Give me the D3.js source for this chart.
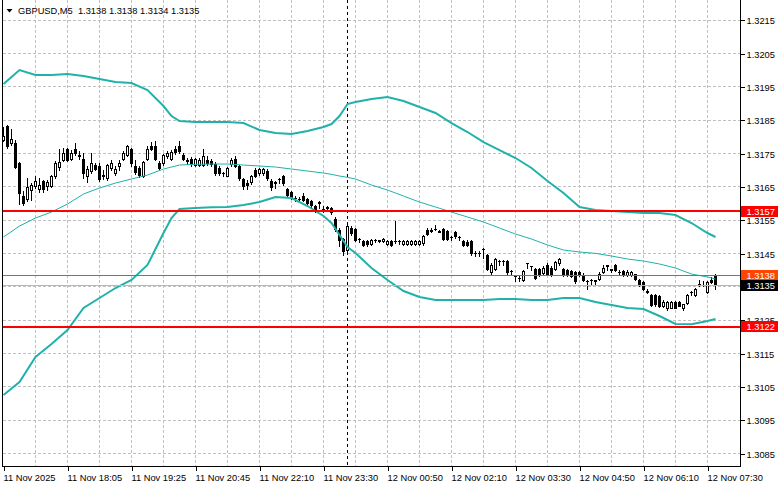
<!DOCTYPE html>
<html><head><meta charset="utf-8">
<script src="https://cdn.jsdelivr.net/npm/d3@7"></script>
<style>
html,body{margin:0;padding:0;background:#fff;}
svg{display:block;}
text{font-family:"Liberation Sans",Arial,sans-serif;font-size:9.3px;fill:#000;}
</style>
</head><body>
<svg id="c" width="781" height="489"></svg>
<script>
const symbolName = "GBPUSD,M5";
const headerValues = ["1.3138", "1.3138", "1.3134", "1.3135"];
const timeLabels = ["11 Nov 2025","11 Nov 18:05","11 Nov 19:25","11 Nov 20:45","11 Nov 22:10","11 Nov 23:30","12 Nov 00:50","12 Nov 02:10","12 Nov 03:30","12 Nov 04:50","12 Nov 06:10","12 Nov 07:30"];
const timeLabelBars = [0,16,32,48,64,80,96,112,128,144,160,176];
const gridBars = [8,16,24,32,40,48,56,64,72,80,88,96,104,112,120,128,136,144,152,160,168,176];
const priceTicks = [1.3215,1.3205,1.3195,1.3185,1.3175,1.3165,1.3155,1.3145,1.3135,1.3125,1.3115,1.3105,1.3095,1.3085];
const separatorBar = 86;

const opens = [1.31789,1.31831,1.31779,1.31781,1.31719,1.31621,1.31611,1.31640,1.31650,1.31643,
1.31665,1.31650,1.31652,1.31680,1.31707,1.31730,1.31762,1.31732,1.31762,1.31745,
1.31732,1.31680,1.31695,1.31713,1.31712,1.31683,1.31675,1.31705,1.31690,1.31710,
1.31732,1.31745,1.31762,1.31712,1.31705,1.31680,1.31732,1.31772,1.31772,1.31720,
1.31720,1.31740,1.31732,1.31762,1.31770,1.31745,1.31728,1.31732,1.31715,1.31715,
1.31715,1.31728,1.31725,1.31718,1.31705,1.31690,1.31682,1.31718,1.31732,1.31712,
1.31672,1.31660,1.31662,1.31698,1.31690,1.31690,1.31695,1.31665,1.31662,1.31672,
1.31682,1.31642,1.31632,1.31615,1.31612,1.31622,1.31612,1.31605,1.31590,1.31602,
1.31582,1.31587,1.31585,1.31552,1.31520,1.31492,1.31460,1.31525,1.31522,1.31492,
1.31485,1.31485,1.31478,1.31490,1.31488,1.31485,1.31478,1.31485,1.31486,1.31486,
1.31478,1.31478,1.31478,1.31478,1.31478,1.31480,1.31518,1.31518,1.31522,1.31515,
1.31522,1.31515,1.31498,1.31512,1.31498,1.31485,1.31484,1.31485,1.31451,1.31451,
1.31462,1.31445,1.31392,1.31402,1.31426,1.31426,1.31425,1.31396,1.31383,1.31376,
1.31370,1.31420,1.31411,1.31402,1.31402,1.31390,1.31415,1.31405,1.31402,1.31420,
1.31402,1.31398,1.31395,1.31392,1.31392,1.31385,1.31366,1.31369,1.31368,1.31372,
1.31392,1.31413,1.31401,1.31415,1.31393,1.31396,1.31384,1.31384,1.31386,1.31369,
1.31362,1.31335,1.31324,1.31324,1.31322,1.31292,1.31284,1.31286,1.31304,1.31302,
1.31284,1.31299,1.31333,1.31324,1.31357,1.31355,1.31332,1.31369,1.31384];
const highs = [1.31829,1.31835,1.31821,1.31790,1.31722,1.31635,1.31674,1.31660,1.31680,1.31675,
1.31670,1.31670,1.31685,1.31725,1.31762,1.31765,1.31765,1.31758,1.31780,1.31755,
1.31750,1.31710,1.31750,1.31720,1.31720,1.31700,1.31718,1.31730,1.31710,1.31730,
1.31755,1.31775,1.31765,1.31730,1.31710,1.31727,1.31770,1.31782,1.31785,1.31725,
1.31748,1.31755,1.31758,1.31772,1.31785,1.31750,1.31735,1.31738,1.31735,1.31735,
1.31762,1.31740,1.31732,1.31722,1.31710,1.31692,1.31708,1.31735,1.31740,1.31715,
1.31675,1.31670,1.31685,1.31705,1.31705,1.31705,1.31702,1.31672,1.31665,1.31675,
1.31685,1.31645,1.31635,1.31620,1.31618,1.31630,1.31615,1.31610,1.31595,1.31605,
1.31590,1.31590,1.31588,1.31558,1.31525,1.31495,1.31535,1.31530,1.31525,1.31495,
1.31490,1.31488,1.31492,1.31492,1.31490,1.31494,1.31488,1.31488,1.31545,1.31490,
1.31488,1.31488,1.31488,1.31488,1.31488,1.31505,1.31525,1.31525,1.31535,1.31518,
1.31525,1.31518,1.31502,1.31515,1.31502,1.31488,1.31488,1.31488,1.31455,1.31455,
1.31465,1.31448,1.31420,1.31435,1.31428,1.31428,1.31428,1.31398,1.31385,1.31380,
1.31398,1.31420,1.31412,1.31405,1.31405,1.31410,1.31420,1.31410,1.31425,1.31435,
1.31405,1.31402,1.31398,1.31395,1.31395,1.31390,1.31368,1.31372,1.31370,1.31392,
1.31415,1.31415,1.31402,1.31418,1.31398,1.31400,1.31398,1.31396,1.31388,1.31372,
1.31365,1.31342,1.31326,1.31326,1.31325,1.31308,1.31305,1.31305,1.31306,1.31305,
1.31298,1.31326,1.31335,1.31345,1.31369,1.31365,1.31365,1.31378,1.31386];
const lows = [1.31787,1.31765,1.31775,1.31705,1.31598,1.31595,1.31605,1.31610,1.31645,1.31633,
1.31633,1.31640,1.31648,1.31675,1.31700,1.31725,1.31725,1.31728,1.31745,1.31732,
1.31675,1.31663,1.31690,1.31698,1.31665,1.31673,1.31670,1.31700,1.31685,1.31700,
1.31728,1.31740,1.31710,1.31688,1.31678,1.31678,1.31728,1.31758,1.31728,1.31698,
1.31715,1.31735,1.31728,1.31748,1.31750,1.31728,1.31718,1.31712,1.31712,1.31712,
1.31712,1.31715,1.31712,1.31685,1.31685,1.31680,1.31680,1.31712,1.31708,1.31670,
1.31642,1.31642,1.31658,1.31678,1.31685,1.31685,1.31670,1.31640,1.31645,1.31660,
1.31655,1.31620,1.31612,1.31605,1.31602,1.31605,1.31595,1.31588,1.31572,1.31585,
1.31572,1.31575,1.31568,1.31515,1.31470,1.31445,1.31450,1.31505,1.31485,1.31482,
1.31472,1.31472,1.31475,1.31482,1.31484,1.31482,1.31475,1.31472,1.31480,1.31478,
1.31475,1.31475,1.31475,1.31475,1.31475,1.31475,1.31505,1.31512,1.31518,1.31512,
1.31488,1.31488,1.31490,1.31495,1.31490,1.31472,1.31472,1.31445,1.31440,1.31440,
1.31435,1.31398,1.31385,1.31398,1.31415,1.31415,1.31388,1.31385,1.31365,1.31365,
1.31365,1.31405,1.31400,1.31372,1.31380,1.31385,1.31385,1.31382,1.31398,1.31415,
1.31380,1.31380,1.31378,1.31360,1.31380,1.31365,1.31342,1.31355,1.31358,1.31368,
1.31390,1.31400,1.31392,1.31395,1.31385,1.31380,1.31380,1.31380,1.31368,1.31350,
1.31338,1.31329,1.31290,1.31292,1.31288,1.31288,1.31280,1.31284,1.31284,1.31290,
1.31280,1.31296,1.31325,1.31320,1.31352,1.31350,1.31330,1.31360,1.31343];
const closes = [1.31801,1.31771,1.31791,1.31709,1.31629,1.31601,1.31649,1.31653,1.31665,1.31653,
1.31643,1.31663,1.31682,1.31720,1.31722,1.31750,1.31730,1.31750,1.31750,1.31740,
1.31690,1.31702,1.31720,1.31702,1.31672,1.31682,1.31713,1.31720,1.31703,1.31720,
1.31750,1.31770,1.31720,1.31693,1.31683,1.31722,1.31762,1.31762,1.31732,1.31705,
1.31743,1.31750,1.31752,1.31752,1.31755,1.31732,1.31727,1.31718,1.31732,1.31730,
1.31742,1.31720,1.31718,1.31690,1.31690,1.31689,1.31705,1.31730,1.31712,1.31675,
1.31650,1.31655,1.31682,1.31682,1.31702,1.31702,1.31675,1.31648,1.31661,1.31671,
1.31660,1.31625,1.31618,1.31614,1.31611,1.31608,1.31600,1.31593,1.31578,1.31601,
1.31581,1.31586,1.31572,1.31522,1.31490,1.31455,1.31530,1.31510,1.31490,1.31491,
1.31475,1.31476,1.31488,1.31489,1.31487,1.31492,1.31485,1.31475,1.31485,1.31485,
1.31485,1.31485,1.31485,1.31485,1.31485,1.31502,1.31508,1.31517,1.31521,1.31514,
1.31492,1.31492,1.31497,1.31500,1.31497,1.31475,1.31475,1.31450,1.31450,1.31450,
1.31461,1.31402,1.31415,1.31432,1.31425,1.31425,1.31392,1.31395,1.31382,1.31375,
1.31395,1.31419,1.31410,1.31375,1.31385,1.31405,1.31388,1.31388,1.31422,1.31432,
1.31385,1.31385,1.31382,1.31365,1.31385,1.31370,1.31365,1.31368,1.31367,1.31388,
1.31405,1.31412,1.31400,1.31400,1.31392,1.31384,1.31392,1.31392,1.31372,1.31354,
1.31342,1.31334,1.31294,1.31296,1.31292,1.31304,1.31302,1.31302,1.31286,1.31292,
1.31296,1.31324,1.31332,1.31341,1.31356,1.31354,1.31362,1.31362,1.31354];

const bandBars = [0,4,8,12,16,20,24,28,32,36,40,42,44,48,52,56,60,64,68,72,76,80,82,84,86,88,92,96,100,104,108,112,116,120,124,128,132,136,140,144,148,152,156,160,164,168,172,176,178];
const bandUpper = [1.31957,1.31999,1.31984,1.31984,1.31987,1.31981,1.31972,1.31963,1.31960,1.31939,1.31891,1.31861,1.31846,1.31843,1.31843,1.31843,1.31840,1.31819,1.31810,1.31807,1.31816,1.31828,1.31837,1.31861,1.31897,1.31903,1.31912,1.31918,1.31906,1.31888,1.31870,1.31840,1.31813,1.31783,1.31759,1.31735,1.31705,1.31666,1.31630,1.31588,1.31579,1.31576,1.31573,1.31570,1.31570,1.31564,1.31540,1.31510,1.31498];
const bandMiddle = [1.31498,1.31531,1.31555,1.31573,1.31597,1.31627,1.31645,1.31660,1.31672,1.31684,1.31702,1.31708,1.31714,1.31716,1.31717,1.31717,1.31714,1.31711,1.31708,1.31702,1.31696,1.31690,1.31686,1.31681,1.31677,1.31672,1.31654,1.31639,1.31621,1.31603,1.31588,1.31573,1.31558,1.31543,1.31525,1.31507,1.31492,1.31474,1.31459,1.31453,1.31449,1.31441,1.31432,1.31426,1.31417,1.31405,1.31387,1.31378,1.31372];
const bandLower = [1.31024,1.31063,1.31138,1.31177,1.31219,1.31285,1.31315,1.31345,1.31369,1.31414,1.31510,1.31555,1.31582,1.31585,1.31587,1.31588,1.31594,1.31603,1.31618,1.31615,1.31591,1.31561,1.31540,1.31504,1.31468,1.31450,1.31405,1.31369,1.31336,1.31318,1.31309,1.31309,1.31309,1.31309,1.31312,1.31312,1.31309,1.31309,1.31315,1.31315,1.31303,1.31294,1.31285,1.31282,1.31261,1.31237,1.31236,1.31246,1.31252];

const levelValues = [1.31576, 1.31229];
const levelLabels = ["1.3157", "1.3122"];
const askValue = 1.31384, askLabel = "1.3138";
const bidValue = 1.31354, bidLabel = "1.3135";

const svg = d3.select("#c");
const L = 2.5, R = 740.5, B = 466.5;
const n = Math.min(opens.length, highs.length, lows.length, closes.length);
const x = d3.scaleLinear().domain([0, 178]).range([3.5, 715.5]);
const y = d3.scaleLinear().domain([1.3085, 1.3215]).range([453, 19.7]);
const py = v => Math.round(y(v)) + 0.5;
const teal = "#20b2aa";

// grid
const grid = svg.append("g").attr("stroke", "#c0c0c0").attr("stroke-dasharray", "3,2").attr("shape-rendering", "crispEdges");
grid.selectAll("line.h").data(priceTicks).join("line").attr("class", "h")
  .attr("x1", L).attr("x2", R).attr("y1", d => py(d)).attr("y2", d => py(d));
grid.selectAll("line.v").data(gridBars).join("line").attr("class", "v")
  .attr("x1", d => x(d)).attr("x2", d => x(d)).attr("y1", 0).attr("y2", B);

// day separator
svg.append("line").attr("x1", x(separatorBar)).attr("x2", x(separatorBar)).attr("y1", 0).attr("y2", B)
  .attr("stroke", "#000").attr("stroke-dasharray", "3,3").attr("shape-rendering", "crispEdges");

// candles
const idx = d3.range(n);
const cg = svg.append("g").attr("shape-rendering", "crispEdges");
cg.selectAll("line.wick").data(idx).join("line").attr("class", "wick")
  .attr("x1", i => x(i)).attr("x2", i => x(i))
  .attr("y1", i => Math.round(y(highs[i]))).attr("y2", i => Math.round(y(lows[i])) + 1)
  .attr("stroke", "#000");
idx.forEach(i => {
  const top = Math.round(y(Math.max(opens[i], closes[i])));
  const bot = Math.round(y(Math.min(opens[i], closes[i])));
  if (bot - top < 1) {
    cg.append("line").attr("x1", x(i) - 1.5).attr("x2", x(i) + 1.5)
      .attr("y1", top + 0.5).attr("y2", top + 0.5).attr("stroke", "#000");
  } else {
    cg.append("rect").attr("x", x(i) - 1).attr("width", 2)
      .attr("y", top + 0.5).attr("height", bot - top)
      .attr("fill", closes[i] >= opens[i] ? "#fff" : "#000").attr("stroke", "#000");
  }
});

// Bollinger bands
const bandLine = vals => d3.line().x((d, k) => x(bandBars[k])).y(d => y(d))(vals);
svg.append("path").attr("d", bandLine(bandUpper)).attr("fill", "none").attr("stroke", teal).attr("stroke-width", 2);
svg.append("path").attr("d", bandLine(bandLower)).attr("fill", "none").attr("stroke", teal).attr("stroke-width", 2);
svg.append("path").attr("d", bandLine(bandMiddle)).attr("fill", "none").attr("stroke", teal).attr("stroke-width", 1);

// bid / ask lines
svg.append("line").attr("x1", L).attr("x2", R).attr("y1", py(bidValue)).attr("y2", py(bidValue))
  .attr("stroke", "#b8b8b8").attr("shape-rendering", "crispEdges");
svg.append("line").attr("x1", L).attr("x2", R).attr("y1", py(askValue)).attr("y2", py(askValue))
  .attr("stroke", "#ff4500").attr("shape-rendering", "crispEdges");
// horizontal levels
svg.selectAll("line.lvl").data(levelValues).join("line").attr("class", "lvl")
  .attr("x1", L).attr("x2", R).attr("y1", d => Math.round(y(d))).attr("y2", d => Math.round(y(d)))
  .attr("stroke", "#ff0000").attr("stroke-width", 2).attr("shape-rendering", "crispEdges");

// frame
svg.append("path").attr("d", `M${L},0V${B}H${R}V0`).attr("fill", "none").attr("stroke", "#000").attr("shape-rendering", "crispEdges");

// price tags (value boxes) on the right
const tags = [
  {v: askValue, t: askLabel, c: "#ff4500"},
  {v: bidValue, t: bidLabel, c: "#000"},
  {v: levelValues[0], t: levelLabels[0], c: "#ff0000"},
  {v: levelValues[1], t: levelLabels[1], c: "#ff0000"}
];

// right axis (labels fully hidden behind a value box are not drawn, as in the terminal)
const hidden = d => tags.some(t => Math.abs(y(t.v) - y(d)) < 4);
const ya = svg.append("g").attr("transform", `translate(${R},0.5)`)
  .call(d3.axisRight(y).tickValues(priceTicks).tickSize(4).tickPadding(2)
    .tickFormat(d => hidden(d) ? "" : d3.format(".4f")(d)));
ya.select(".domain").remove();
ya.selectAll("line").attr("stroke", "#000").attr("shape-rendering", "crispEdges");
ya.selectAll("text").attr("dy", "0.38em").attr("fill", "#000").style("font-size", "9.3px").style("font-family", '"Liberation Sans",Arial,sans-serif');

// bottom axis
const xa = svg.append("g").attr("transform", `translate(0,${B})`)
  .call(d3.axisBottom(x).tickValues(timeLabelBars).tickSize(4).tickPadding(4).tickFormat((d, k) => timeLabels[k]));
xa.select(".domain").remove();
xa.selectAll("line").attr("stroke", "#000").attr("shape-rendering", "crispEdges");
xa.selectAll("text").attr("text-anchor", "start").attr("x", -0.5).attr("fill", "#000").style("font-size", "9.3px").style("font-family", '"Liberation Sans",Arial,sans-serif');

tags.forEach(d => {
  const cy = y(d.v);
  svg.append("rect").attr("x", 741).attr("y", Math.round(cy - 5.5)).attr("width", 37).attr("height", 11).attr("fill", d.c);
  svg.append("text").attr("x", 746.5).attr("y", Math.round(cy - 5.5) + 9).text(d.t).style("fill", "#fff");
});

// header
svg.append("path").attr("d", "M6.5,9L12.5,9L9.5,12.5Z").attr("fill", "#000");
svg.append("text").attr("x", 18).attr("y", 14).attr("xml:space", "preserve")
  .text(symbolName + "  " + headerValues.join(" "));
</script>
</body></html>
